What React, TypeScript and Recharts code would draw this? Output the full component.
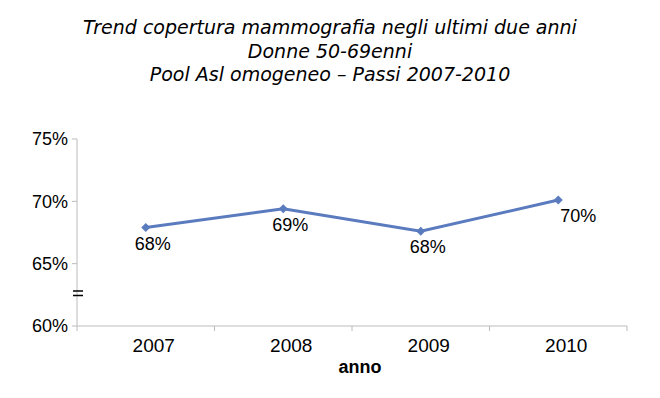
import { LineChart, Line, XAxis, YAxis } from "recharts";

const years = ["2007", "2008", "2009", "2010"];
const copertura = [67.9, 69.4, 67.6, 70.1];
const yTicks = [60, 65, 70, 75];

const data = years.map((anno, i) => ({ anno, copertura: copertura[i] }));

const LINE_COLOR = "#5b7bbf";
const AXIS_COLOR = "#bcbcbc";
const TITLE_FONT = "'DejaVu Sans', Verdana, sans-serif";
const NUM_FONT = "'Liberation Sans', Arial, sans-serif";
const HALF_BAND = 68.75;

const Diamond = (props: any) => {
  const { cx, cy } = props;
  if (cx == null || cy == null) return null;
  const r = 4.5;
  return (
    <polygon
      points={`${cx},${cy - r} ${cx + r},${cy} ${cx},${cy + r} ${cx - r},${cy}`}
      fill={LINE_COLOR}
    />
  );
};

const PointLabel = (props: any) => {
  const { x, y, value, index } = props;
  const last = index === years.length - 1;
  return (
    <text
      x={last ? x + 2 : x - 11}
      y={y + 22}
      fontSize={18}
      fontFamily={NUM_FONT}
      fill="#000"
    >
      {Math.round(value)}%
    </text>
  );
};

const YearTick = (props: any) => {
  const { x, y, payload } = props;
  const last = payload.value === years[years.length - 1];
  return (
    <g>
      <line x1={x - HALF_BAND} y1={y} x2={x - HALF_BAND} y2={y + 5} stroke={AXIS_COLOR} />
      {last && (
        <line x1={x + HALF_BAND} y1={y} x2={x + HALF_BAND} y2={y + 5} stroke={AXIS_COLOR} />
      )}
      <text
        x={x + 8}
        y={y + 26}
        textAnchor="middle"
        fontSize={19}
        fontFamily={NUM_FONT}
        fill="#000"
      >
        {payload.value}
      </text>
    </g>
  );
};

export default function App() {
  return (
    <div
      style={{
        position: "absolute",
        left: 0,
        top: 0,
        width: 660,
        height: 398,
        background: "#fff",
        fontFamily: TITLE_FONT,
      }}
    >
      <div
        style={{
          position: "absolute",
          top: 16,
          left: 0,
          width: 660,
          textAlign: "center",
          fontStyle: "italic",
          fontSize: 19,
          lineHeight: "23.5px",
          color: "#000",
        }}
      >
        <div>Trend copertura mammografia negli ultimi due anni</div>
        <div>Donne 50-69enni</div>
        <div>Pool Asl omogeneo – Passi 2007-2010</div>
      </div>

      <LineChart
        width={660}
        height={398}
        data={data}
        margin={{ top: 139, right: 33, bottom: 42, left: 0 }}
      >
        <XAxis
          dataKey="anno"
          padding={{ left: HALF_BAND, right: HALF_BAND }}
          axisLine={{ stroke: AXIS_COLOR }}
          tickLine={false}
          tickSize={0}
          tickMargin={0}
          height={30}
          tick={<YearTick />}
          interval={0}
        />
        <YAxis
          domain={[60, 75]}
          ticks={yTicks}
          width={77}
          axisLine={{ stroke: AXIS_COLOR }}
          tickLine={{ stroke: AXIS_COLOR }}
          tickSize={5}
          tickMargin={4}
          tickFormatter={(v: number) => `${v}%`}
          tick={{ fontSize: 18, fontFamily: NUM_FONT, fill: "#000" }}
        />
        <Line
          type="linear"
          dataKey="copertura"
          stroke={LINE_COLOR}
          strokeWidth={3}
          dot={<Diamond />}
          activeDot={false}
          label={<PointLabel />}
          isAnimationActive={false}
        />
      </LineChart>

      {/* axis break mark */}
      <svg
        width={16}
        height={10}
        style={{ position: "absolute", left: 71, top: 288 }}
      >
        <line x1={2} y1={3} x2={12} y2={3} stroke="#000" strokeWidth={1.5} />
        <line x1={2} y1={7.5} x2={12} y2={7.5} stroke="#000" strokeWidth={1.5} />
      </svg>

      <div
        style={{
          position: "absolute",
          left: 0,
          top: 357,
          width: 720,
          textAlign: "center",
          fontFamily: NUM_FONT,
          fontWeight: "bold",
          fontSize: 18,
          lineHeight: "20px",
          color: "#000",
        }}
      >
        anno
      </div>
    </div>
  );
}
